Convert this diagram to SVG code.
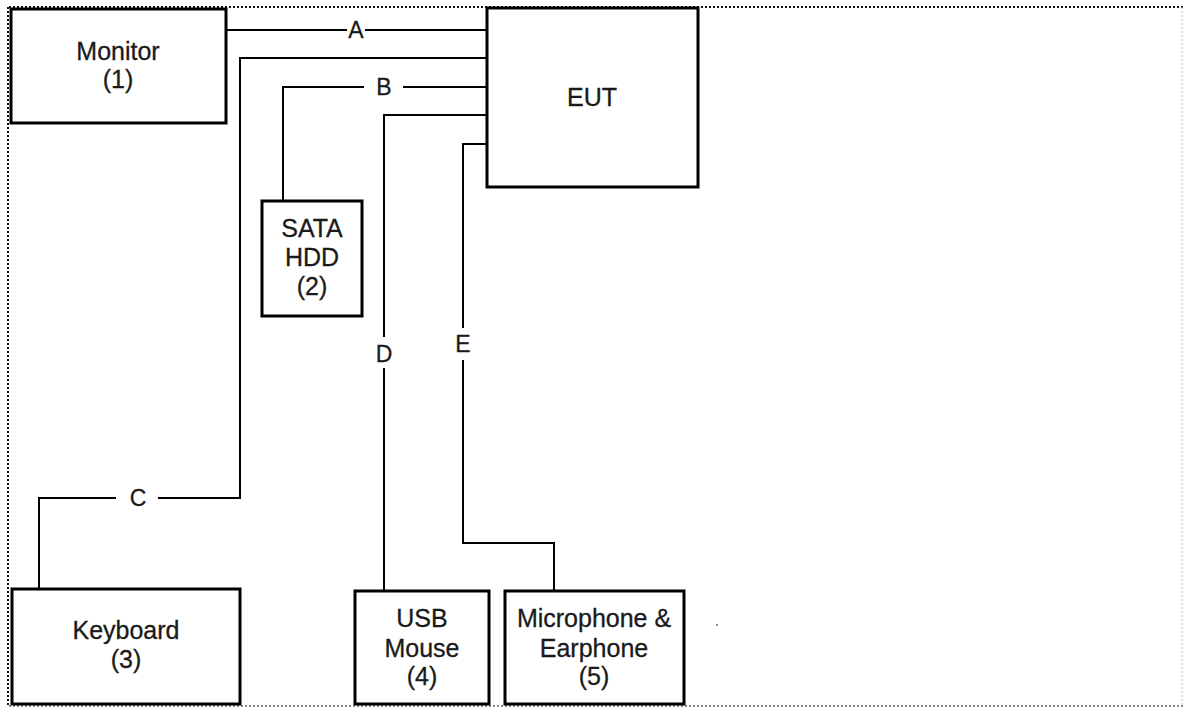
<svg xmlns="http://www.w3.org/2000/svg" width="1183" height="708" viewBox="0 0 1183 708">
<style>
.box{fill:#fff;stroke:#000;stroke-width:3}
.cn{fill:none;stroke:#000;stroke-width:2}
.t{font-family:"Liberation Sans",Arial,sans-serif;font-size:25px;fill:#1a1a1a;stroke:#1a1a1a;stroke-width:0.3;text-anchor:middle}
.lbl{font-family:"Liberation Sans",Arial,sans-serif;font-size:23px;fill:#1a1a1a;stroke:#1a1a1a;stroke-width:0.3;text-anchor:middle}
.bg{fill:#fff}
</style>
<rect width="1183" height="708" fill="#fff"/>
<g id="frame">
<line x1="9" y1="7" x2="1183" y2="7" stroke="#111" stroke-width="2" stroke-dasharray="2 2"/>
<line x1="8" y1="7" x2="8" y2="707" stroke="#111" stroke-width="2" stroke-dasharray="2 2"/>
<line x1="9" y1="706" x2="1183" y2="706" stroke="#888" stroke-width="2" stroke-dasharray="2 2"/>
<line x1="1182" y1="7" x2="1182" y2="706" stroke="#bbb" stroke-width="1" stroke-dasharray="2 2"/>
</g>
<g id="connectors">
<path class="cn" d="M226,30 H487"/>
<path class="cn" d="M487,58 H240 V498 H39 V589"/>
<path class="cn" d="M487,87 H283 V201"/>
<path class="cn" d="M487,115 H384 V591"/>
<path class="cn" d="M487,144 H463 V543 H554 V591"/>
<g id="label-A"><rect class="bg" x="347" y="20" width="18" height="20"/><text class="lbl" x="356" y="38">A</text></g>
<g id="label-B"><rect class="bg" x="364" y="77" width="39" height="20"/><text class="lbl" x="384" y="95">B</text></g>
<g id="label-C"><rect class="bg" x="116" y="488" width="42" height="20"/><text class="lbl" x="138" y="506">C</text></g>
<g id="label-D"><rect class="bg" x="374" y="337" width="20" height="31"/><text class="lbl" x="384" y="362">D</text></g>
<g id="label-E"><rect class="bg" x="453" y="328" width="20" height="32"/><text class="lbl" x="463" y="352">E</text></g>
</g>
<g id="monitor"><rect class="box" x="11" y="9" width="215" height="114"/><text class="t" x="118" y="60">Monitor</text><text class="t" x="118" y="88">(1)</text></g>
<g id="eut"><rect class="box" x="487" y="8" width="211" height="179"/><text class="t" x="592" y="106">EUT</text></g>
<g id="sata-hdd"><rect class="box" x="262" y="201" width="100" height="115"/><text class="t" x="312" y="237">SATA</text><text class="t" x="312" y="266">HDD</text><text class="t" x="312" y="295">(2)</text></g>
<g id="keyboard"><rect class="box" x="12" y="589" width="228" height="115"/><text class="t" x="126" y="639">Keyboard</text><text class="t" x="126" y="668">(3)</text></g>
<g id="usb-mouse"><rect class="box" x="355" y="591" width="134" height="113"/><text class="t" x="422" y="627">USB</text><text class="t" x="422" y="657">Mouse</text><text class="t" x="422" y="685">(4)</text></g>
<g id="mic-earphone"><rect class="box" x="505" y="591" width="179" height="113"/><text class="t" x="594" y="627">Microphone &amp;</text><text class="t" x="594" y="657">Earphone</text><text class="t" x="594" y="685">(5)</text></g>
<circle cx="717" cy="625" r="1" fill="#666"/>
</svg>
